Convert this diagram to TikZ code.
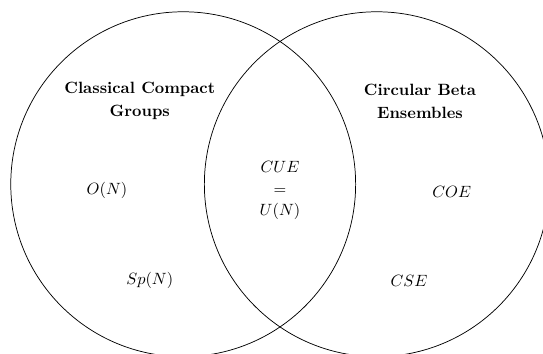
\documentclass[tikz,border=0pt]{standalone}
\begin{document}
\begin{tikzpicture}[x=0.6124pt,y=-0.6124pt,
  settitle/.style={font=\bfseries,align=center,inner sep=0pt},
  setmember/.style={inner sep=0pt},
  vennring/.style={draw=black,line width=0.45pt}]
\useasboundingbox (0,0) rectangle (543,353);
\clip (0,0) rectangle (543,353);
\coordinate (cl) at (183.2,184.2);
\coordinate (cr) at (376.8,184.2);
\draw[vennring] (cl) circle [radius=105.6pt];
\draw[vennring] (cr) circle [radius=105.6pt];
\node[settitle] (ccg) at (139.8,101) {Classical Compact\\[1.8pt]Groups};
\node[settitle] (cbe) at (420,101.5) {Circular Beta\\[1.8pt]Ensembles};
\node[setmember] (on) at (107,190.5) {$O(N)$};
\node[setmember] (spn) at (149.8,280.6) {$Sp(N)$};
\node[setmember,align=center] (cue) at (280,190.5) {$CUE$\\[1.2pt]$=$\\[1.2pt]$U(N)$};
\node[setmember] (coe) at (451.7,192) {$COE$};
\node[setmember] (cse) at (409,281) {$CSE$};
\end{tikzpicture}
\end{document}
